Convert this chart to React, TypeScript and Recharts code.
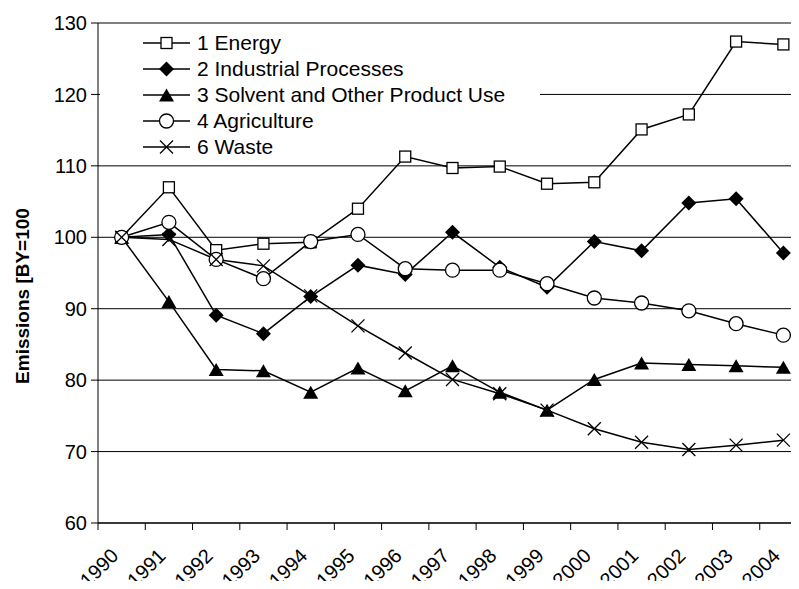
import React from "react";
import { LineChart, Line, XAxis, YAxis, CartesianGrid } from "recharts";

const years = ["1990", "1991", "1992", "1993", "1994", "1995", "1996", "1997", "1998", "1999", "2000", "2001", "2002", "2003", "2004"];
const energy = [100, 107.0, 98.2, 99.1, 99.3, 104.0, 111.3, 109.7, 109.9, 107.5, 107.7, 115.1, 117.2, 127.4, 127.0];
const industrial = [100, 100.4, 89.1, 86.5, 91.7, 96.1, 94.8, 100.7, 95.8, 93.0, 99.4, 98.1, 104.8, 105.4, 97.8];
const solvent = [100, 91.0, 81.5, 81.3, 78.3, 81.7, 78.5, 82.0, 78.3, 75.8, 80.1, 82.4, 82.2, 82.0, 81.8];
const agriculture = [100, 102.1, 96.9, 94.2, 99.4, 100.4, 95.6, 95.4, 95.4, 93.5, 91.5, 90.8, 89.7, 87.9, 86.3];
const waste = [100, 99.7, 96.9, 96.0, 91.8, 87.6, 83.8, 80.1, 78.1, 75.8, 73.2, 71.3, 70.3, 70.9, 71.6];
const yTicks = [60, 70, 80, 90, 100, 110, 120, 130];

const series = [
  { key: "energy", name: "1 Energy", shape: "square" },
  { key: "industrial", name: "2 Industrial Processes", shape: "diamond" },
  { key: "solvent", name: "3 Solvent and Other Product Use", shape: "triangle" },
  { key: "agriculture", name: "4 Agriculture", shape: "circle" },
  { key: "waste", name: "6 Waste", shape: "cross" },
];

const data = years.map((year, i) => ({
  year,
  energy: energy[i],
  industrial: industrial[i],
  solvent: solvent[i],
  agriculture: agriculture[i],
  waste: waste[i],
}));

const FONT = "'Liberation Sans', Arial, sans-serif";
// half a category slot: points sit in the middle of each slot, ticks on the slot edges
const HALF = 23.63;

function Marker({ shape, cx, cy }: { shape: string; cx: number; cy: number }) {
  if (cx == null || cy == null) return null;
  switch (shape) {
    case "square":
      return <rect x={cx - 5.5} y={cy - 5.5} width={11} height={11} fill="#fff" stroke="#000" strokeWidth={1.3} />;
    case "diamond":
      return <polygon points={`${cx},${cy - 7.5} ${cx + 7.5},${cy} ${cx},${cy + 7.5} ${cx - 7.5},${cy}`} fill="#000" />;
    case "triangle":
      return <polygon points={`${cx},${cy - 6.5} ${cx + 7.5},${cy + 6.5} ${cx - 7.5},${cy + 6.5}`} fill="#000" />;
    case "circle":
      return <circle cx={cx} cy={cy} r={7} fill="#fff" stroke="#000" strokeWidth={1.3} />;
    default:
      return (
        <g stroke="#000" strokeWidth={1.3}>
          <line x1={cx - 6.5} y1={cy - 6.5} x2={cx + 6.5} y2={cy + 6.5} />
          <line x1={cx - 6.5} y1={cy + 6.5} x2={cx + 6.5} y2={cy - 6.5} />
        </g>
      );
  }
}

const makeDot = (shape: string) => (props: any) => (
  <Marker key={`${shape}-${props.index}`} shape={shape} cx={props.cx} cy={props.cy} />
);

const XTick = (props: any) => {
  const { x, y, payload } = props;
  const tx = x - 2;
  const ty = y + 34;
  return (
    <g>
      <line x1={x - HALF} y1={y} x2={x - HALF} y2={y + 7} stroke="#000" strokeWidth={1} />
      <text
        x={tx}
        y={ty}
        transform={`rotate(-45, ${tx}, ${ty})`}
        textAnchor="end"
        fontSize={20}
        fontFamily={FONT}
        fill="#000"
      >
        {payload.value}
      </text>
    </g>
  );
};

const YLabel = () => (
  <text
    transform="translate(22, 296) rotate(-90)"
    textAnchor="middle"
    dominantBaseline="central"
    fontSize={19}
    fontWeight="bold"
    fontFamily={FONT}
    fill="#000"
  >
    Emissions [BY=100
  </text>
);

const LegendBox = () => (
  <div
    style={{
      position: "absolute",
      left: 100,
      top: 30,
      background: "#fff",
      width: 440,
      height: 120,
      fontFamily: FONT,
      fontSize: 21,
      color: "#000",
    }}
  >
    {series.map((s) => (
      <div key={s.key} style={{ display: "flex", alignItems: "center", height: 26, whiteSpace: "nowrap" }}>
        <svg width={56} height={26} style={{ marginLeft: 41, flex: "none" }}>
          <line x1={2} y1={13} x2={49} y2={13} stroke="#000" strokeWidth={1.3} />
          <Marker shape={s.shape} cx={25.5} cy={13} />
        </svg>
        <span style={{ lineHeight: "26px" }}>{s.name}</span>
      </div>
    ))}
  </div>
);

export default function App() {
  return (
    <div style={{ margin: -8, width: 799, height: 589, overflow: "hidden", background: "#fff", position: "relative" }}>
      <LineChart width={807} height={589} data={data} margin={{ top: 23, right: 0, bottom: 1, left: 0 }}>
        <CartesianGrid vertical={false} stroke="#000" strokeWidth={1} />
        <XAxis
          dataKey="year"
          height={65}
          padding={{ left: HALF, right: HALF }}
          axisLine={{ stroke: "#3a3a3a", strokeWidth: 2 }}
          tickLine={false}
          tickSize={0}
          tickMargin={0}
          tick={<XTick />}
          interval={0}
        />
        <YAxis
          width={98}
          domain={[60, 130]}
          ticks={yTicks}
          interval={0}
          axisLine={{ stroke: "#000", strokeWidth: 1 }}
          tickLine={{ stroke: "#000" }}
          tickSize={7}
          tickMargin={4}
          tick={{ fontSize: 20, fontFamily: FONT, fill: "#000" }}
          label={<YLabel />}
        />
        {series.map((s) => (
          <Line
            key={s.key}
            dataKey={s.key}
            name={s.name}
            type="linear"
            stroke="#000"
            strokeWidth={1.5}
            dot={makeDot(s.shape)}
            activeDot={false}
            isAnimationActive={false}
          />
        ))}
      </LineChart>
      <LegendBox />
    </div>
  );
}
